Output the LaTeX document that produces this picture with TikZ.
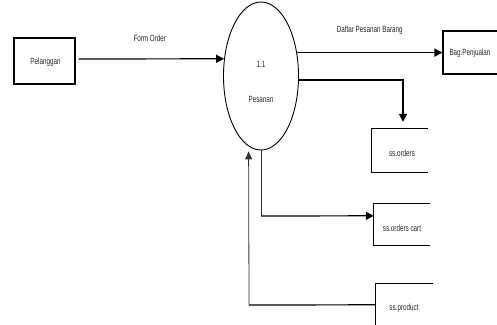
\documentclass[tikz,border=0pt]{standalone}
\usepackage{fontspec}
\setmainfont[FakeStretch=0.7]{Liberation Sans}
\usetikzlibrary{shapes.geometric,arrows.meta}
\begin{document}
\begin{tikzpicture}[x=1pt,y=-1pt,
  lbl/.style={font=\fontsize{9}{10}\selectfont, text=black!85, inner sep=0pt},
  entity/.style={draw, line width=1.1pt, inner sep=0pt},
  storebox/.style={inner sep=0pt},
  flow/.style={line width=1.2pt, -{Triangle[length=8pt,width=8pt]}},
  thinflow/.style={line width=0.8pt, -{Triangle[length=8pt,width=7pt]}}]
\useasboundingbox (0,0) rectangle (497,324);
\clip (0,0) rectangle (497,324);
% entities
\node[entity, minimum width=61pt, minimum height=46pt] (pel) at (44.5,61) {};
\node[lbl] at (45.5,62) {Pelanggan};
\node[entity, minimum width=60pt, minimum height=43pt] (bag) at (473,52.5) {};
\node[lbl] at (470,53) {Bag.Penjualan};
% process
\node[draw, ellipse, line width=0.9pt, minimum width=75pt, minimum height=148pt, inner sep=0pt] (p) at (261,76) {};
\node[lbl] (pnum) at (261,64) {1.1};
\node[lbl] (pname) at (261,99) {Pesanan};
% data stores
\node[storebox, minimum width=56pt, minimum height=43pt] (orders) at (400,150.5) {};
\node[lbl] at (402,153) {ss.orders};
\draw[line width=1.1pt] (orders.north east) -- (orders.north west) -- (orders.south west) -- (orders.south east);
\node[storebox, minimum width=56pt, minimum height=41pt] (cart) at (402,224.5) {};
\node[lbl] at (402,228) {ss.orders cart};
\draw[line width=1.1pt] (cart.north east) -- (cart.north west) -- (cart.south west) -- (cart.south east);
\node[storebox, minimum width=57pt, minimum height=48pt] (prod) at (404.5,308) {};
\node[lbl] at (404,308) {ss.product};
\draw[line width=1.1pt] (prod.north east) -- (prod.north west) -- (prod.south west) -- (prod.south east);
% flows
\draw[flow, shorten <=3pt] (pel.east |- 0,59) -- (p.155) node[lbl, pos=0.5, above=17pt] {Form Order};
\draw[flow] (p.33) -- (bag.west |- p.33) node[lbl, pos=0.5, above=18pt] {Daftar Pesanan Barang};
\draw[flow, shorten >=7pt] (p.354) -| ([xshift=3pt]orders.north);
\draw[line width=0.8pt, black!80] (p.south) -- (p.south |- 0,216);
\draw[flow] (p.south |- 0,216) -- ([yshift=-12pt]cart.north west);
\draw[line width=1.2pt] ([yshift=-21pt]prod.north west) -- (249,305);
\draw[thinflow, black!80, shorten >=5pt] (249,305) -- (p.260);
\end{tikzpicture}
\end{document}
